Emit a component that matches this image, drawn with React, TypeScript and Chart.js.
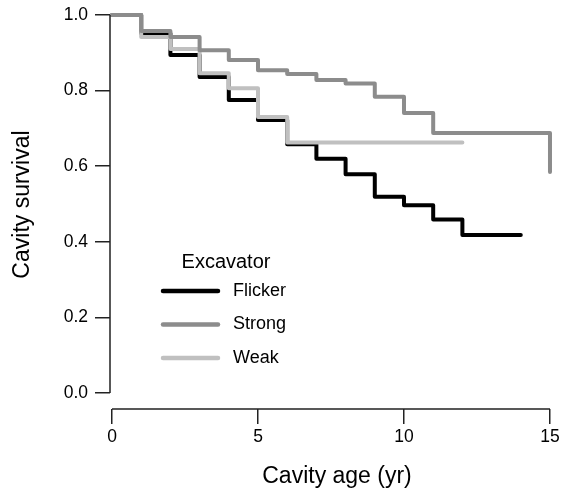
import React, { useEffect, useRef } from 'react';
import { Chart, registerables } from 'chart.js';

Chart.register(...registerables);

const FONT = "'Liberation Sans', Arial, Helvetica, sans-serif";

// Kaplan–Meier step data (time in years, survival)
const flickerTimes = [0, 1, 2, 3, 4, 5, 6, 7, 8, 9, 10, 11, 12, 14];
const flickerSurv = [1.0, 0.952, 0.894, 0.836, 0.775, 0.722, 0.658, 0.62, 0.579, 0.519, 0.497, 0.459, 0.418, 0.418];
const strongTimes = [0, 1, 2, 3, 4, 5, 6, 7, 8, 9, 10, 11, 15];
const strongSurv = [1.0, 0.958, 0.942, 0.907, 0.881, 0.854, 0.844, 0.828, 0.819, 0.784, 0.741, 0.688, 0.585];
const weakTimes = [0, 1, 2, 3, 4, 5, 6, 12];
const weakSurv = [1.0, 0.942, 0.91, 0.846, 0.806, 0.73, 0.663, 0.663];

const xTicks = [0, 5, 10, 15];
const yTicks = [0, 0.2, 0.4, 0.6, 0.8, 1.0];
const seriesNames = ['Flicker', 'Strong', 'Weak'];
const seriesColors = ['#000000', '#8c8c8c', '#c0c0c0'];
const legendTitle = 'Excavator';
const xTitle = 'Cavity age (yr)';
const yTitle = 'Cavity survival';

const toPoints = (t: number[], s: number[]) => t.map((x, i) => ({ x, y: s[i] }));

const axisLinesPlugin = {
  id: 'axisLines',
  afterDraw(chart: any) {
    const { ctx, chartArea, scales } = chart;
    const xs = scales.x;
    const ys = scales.y;
    ctx.save();
    ctx.strokeStyle = '#222';
    ctx.lineWidth = 1.5;
    ctx.beginPath();
    ctx.moveTo(chartArea.left, ys.getPixelForValue(yTicks[0]));
    ctx.lineTo(chartArea.left, ys.getPixelForValue(yTicks[yTicks.length - 1]));
    ctx.moveTo(xs.getPixelForValue(xTicks[0]), chartArea.bottom);
    ctx.lineTo(xs.getPixelForValue(xTicks[xTicks.length - 1]), chartArea.bottom);
    ctx.stroke();
    ctx.restore();
  },
};

const legendPlugin = {
  id: 'rLegend',
  afterDraw(chart: any) {
    const { ctx, chartArea } = chart;
    const x0 = chartArea.left + 53;
    const lineLen = 55;
    const y0 = chartArea.top + 291;
    const gap = 33.5;
    ctx.save();
    ctx.fillStyle = '#000';
    ctx.font = `20px ${FONT}`;
    ctx.textAlign = 'center';
    ctx.textBaseline = 'middle';
    ctx.fillText(legendTitle, x0 + 63, chartArea.top + 262);
    ctx.font = `18px ${FONT}`;
    ctx.textAlign = 'left';
    seriesNames.forEach((name, i) => {
      const y = y0 + i * gap;
      ctx.strokeStyle = seriesColors[i];
      ctx.lineWidth = 4.5;
      ctx.lineCap = 'round';
      ctx.beginPath();
      ctx.moveTo(x0, y);
      ctx.lineTo(x0 + lineLen, y);
      ctx.stroke();
      ctx.fillStyle = '#000';
      ctx.fillText(name, x0 + lineLen + 15, y);
    });
    ctx.restore();
  },
};

export default function App() {
  const canvasRef = useRef<HTMLCanvasElement | null>(null);

  useEffect(() => {
    if (!canvasRef.current) return;
    const common = {
      stepped: 'before' as const,
      pointRadius: 0,
      borderWidth: 4,
      borderCapStyle: 'round' as const,
      borderJoinStyle: 'round' as const,
      fill: false,
    };
    const chart = new Chart(canvasRef.current, {
      type: 'line',
      data: {
        datasets: [
          { ...common, label: seriesNames[0], data: toPoints(flickerTimes, flickerSurv), borderColor: seriesColors[0], order: 2 },
          { ...common, label: seriesNames[1], data: toPoints(strongTimes, strongSurv), borderColor: seriesColors[1], order: 0 },
          { ...common, label: seriesNames[2], data: toPoints(weakTimes, weakSurv), borderColor: seriesColors[2], order: 1 },
        ],
      },
      options: {
        responsive: false,
        maintainAspectRatio: false,
        animation: false,
        layout: { padding: 0 },
        plugins: {
          legend: { display: false },
          tooltip: { enabled: false },
        },
        scales: {
          x: {
            type: 'linear',
            position: 'bottom',
            min: -0.0685,
            max: 15.48,
            afterBuildTicks: (scale: any) => {
              scale.ticks = xTicks.map((value) => ({ value }));
            },
            afterFit: (scale: any) => {
              scale.height = 81;
              scale.paddingLeft = 0;
              scale.paddingRight = 0;
              scale.paddingTop = 0;
              scale.paddingBottom = 0;
            },
            border: { display: false },
            grid: {
              display: true,
              drawOnChartArea: false,
              drawTicks: true,
              tickLength: 15,
              color: '#222',
              lineWidth: 1.5,
            },
            ticks: {
              autoSkip: false,
              maxRotation: 0,
              padding: 3,
              color: '#000',
              font: { family: FONT, size: 17.5 },
              callback: (v: any) => String(v),
            },
            title: {
              display: true,
              text: xTitle,
              color: '#000',
              font: { family: FONT, size: 23 },
              padding: { top: 0, bottom: 0 },
            },
          },
          y: {
            type: 'linear',
            position: 'left',
            min: -0.0423,
            max: 1.0397,
            afterBuildTicks: (scale: any) => {
              scale.ticks = yTicks.map((value) => ({ value }));
            },
            afterFit: (scale: any) => {
              scale.width = 110;
              scale.paddingLeft = 0;
              scale.paddingRight = 0;
              scale.paddingTop = 0;
              scale.paddingBottom = 0;
            },
            border: { display: false },
            grid: {
              display: true,
              drawOnChartArea: false,
              drawTicks: true,
              tickLength: 15,
              color: '#222',
              lineWidth: 1.5,
            },
            ticks: {
              padding: 7,
              color: '#000',
              font: { family: FONT, size: 17.5 },
              callback: (v: any) => Number(v).toFixed(1),
            },
            title: {
              display: true,
              text: yTitle,
              color: '#000',
              font: { family: FONT, size: 23 },
              padding: { top: 9, bottom: 0 },
            },
          },
        },
      },
      plugins: [axisLinesPlugin, legendPlugin],
    });
    return () => chart.destroy();
  }, []);

  return (
    <div style={{ position: 'fixed', left: 0, top: 0, width: 564, height: 490, background: '#fff' }}>
      <canvas ref={canvasRef} width={564} height={490} style={{ display: 'block' }} />
    </div>
  );
}
